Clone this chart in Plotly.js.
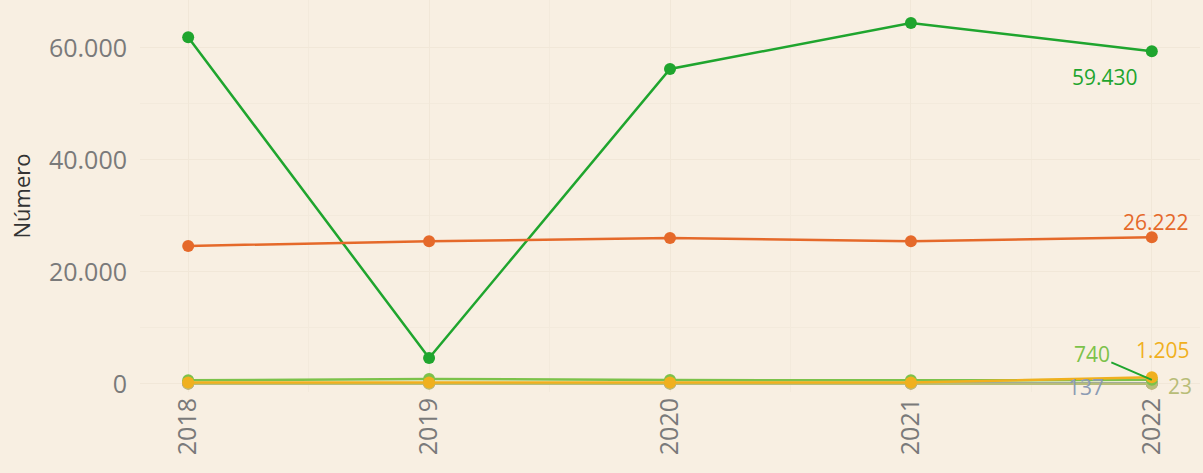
<!DOCTYPE html>
<html>
<head>
<meta charset="utf-8">
<script src="https://cdn.plot.ly/plotly-3.0.1.min.js"></script>
<style>html,body{margin:0;padding:0;background:#f8efe2;}#chart{width:1203px;height:473px;}</style>
</head>
<body>
<div id="chart"></div>
<script>
const years = [2018, 2019, 2020, 2021, 2022];
const seriesGreen = [61900, 4650, 56250, 64450, 59430];
const seriesOrange = [24650, 25500, 26050, 25500, 26222];
const seriesLightGreen = [650, 900, 700, 650, 740];
const seriesYellow = [250, 280, 250, 260, 1205];
const seriesRed = [100, 120, 110, 100, 90];
const seriesGrey = [150, 160, 150, 150, 137];
const seriesKhaki = [30, 30, 30, 30, 23];

const colGreen = '#1fa52e', colOrange = '#e5692a', colLight = '#7cc24a',
      colYellow = '#f0b01e', colRed = '#e05a3a', colGrey = '#8c9bb3', colKhaki = '#b8bd78';

function fmt(v){ return String(v).replace(/\B(?=(\d{3})+(?!\d))/g, '.'); }
function tr(y, c, name){
  return {x: years, y: y, type: 'scatter', mode: 'lines+markers', name: name,
    line: {color: c, width: 2.5}, marker: {color: c, size: 12}};
}
const data = [
  tr(seriesGreen, colGreen, 'A'),
  tr(seriesOrange, colOrange, 'B'),
  tr(seriesRed, colRed, 'E'),
  tr(seriesGrey, colGrey, 'C'),
  tr(seriesKhaki, colKhaki, 'D'),
  tr(seriesLightGreen, colLight, 'F'),
  tr(seriesYellow, colYellow, 'G')
];
const last = years.length - 1;
function ann(y, c, xs, ys, arrow){
  const a = {x: years[last], y: y[last], text: fmt(y[last]), font: {family: 'Open Sans', size: 21, color: c}};
  if (arrow){ Object.assign(a, {showarrow: true, arrowhead: 0, arrowcolor: colGreen, arrowwidth: 2, ax: xs, ay: ys}); }
  else { Object.assign(a, {showarrow: false, xshift: xs, yshift: ys}); }
  return a;
}
const annotations = [
  ann(seriesGreen, colGreen, -47, -26),
  ann(seriesOrange, colOrange, 4, 15),
  ann(seriesLightGreen, colLight, -60, -26, true),
  ann(seriesYellow, colYellow, 11, 27),
  ann(seriesGrey, colGrey, -66, -4),
  ann(seriesKhaki, colKhaki, 28, -2)
];
const layout = {
  width: 1203, height: 473,
  paper_bgcolor: '#f8efe2', plot_bgcolor: '#f8efe2',
  margin: {l: 140, r: 3, t: 0, b: 81},
  showlegend: false,
  separators: ',.',
  font: {family: 'Open Sans', color: '#777'},
  xaxis: {range: [2017.8, 2022.2], tickvals: years, ticktext: years.map(String), tickangle: -90,
    tickfont: {size: 25, color: '#7a7a7a'}, showgrid: true, gridcolor: '#f1e7d8', zeroline: false,
    minor: {dtick: 0.5, tick0: 2017.5, showgrid: true, gridcolor: '#f3eadc'}, showline: false},
  yaxis: {range: [-1430, 68570], dtick: 20000, tick0: 0, tickformat: ',d', tickfont: {size: 25, color: '#7a7a7a'},
    ticklabelstandoff: 12,
    showgrid: true, gridcolor: '#f1e7d8', zeroline: false,
    minor: {dtick: 10000, showgrid: true, gridcolor: '#f3eadc'},
    title: {text: 'Número', font: {size: 22, color: '#333'}, standoff: 12}},
  annotations: annotations
};
Plotly.newPlot('chart', data, layout, {displayModeBar: false, staticPlot: true});
</script>
</body>
</html>
